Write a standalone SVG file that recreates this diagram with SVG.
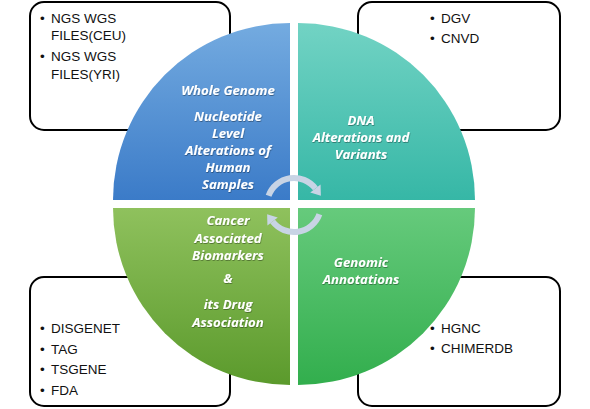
<svg xmlns="http://www.w3.org/2000/svg" width="590" height="409" viewBox="0 0 590 409">
<defs>
<linearGradient id="gBlue" x1="0" y1="0" x2="0" y2="1"><stop offset="0" stop-color="#74abe0"/><stop offset="1" stop-color="#3b7bc8"/></linearGradient>
<linearGradient id="gTeal" x1="0" y1="0" x2="0" y2="1"><stop offset="0" stop-color="#72d3c4"/><stop offset="1" stop-color="#36b7a6"/></linearGradient>
<linearGradient id="gLime" x1="0" y1="0" x2="0" y2="1"><stop offset="0" stop-color="#8fc15d"/><stop offset="1" stop-color="#5b9a2c"/></linearGradient>
<linearGradient id="gGreen" x1="0" y1="0" x2="0" y2="1"><stop offset="0" stop-color="#66ca7c"/><stop offset="1" stop-color="#32ae4d"/></linearGradient>
<filter id="sh" x="-10%" y="-10%" width="120%" height="130%"><feDropShadow dx="0.5" dy="1" stdDeviation="0.6" flood-color="#000" flood-opacity="0.35"/></filter>
<marker id="ah" markerUnits="userSpaceOnUse" markerWidth="14" markerHeight="14" refX="1" refY="7" orient="auto"><path d="M1,0.5 L10,7 L1,13.5 Z" fill="#c8d4e5"/></marker>
<style>
.box{fill:#fff;stroke:#000;stroke-width:2}
.bt{font-family:"Liberation Sans",Arial,sans-serif;font-size:13.5px;fill:#111}
.qt{font-family:"Open Sans",Lato,sans-serif;font-size:13.2px;font-weight:bold;font-style:italic;fill:#fff;text-anchor:middle;filter:url(#sh)}
.arc{fill:none;stroke:#c8d4e5;stroke-width:6}
</style>
</defs>
<rect width="590" height="409" fill="#fff"/>
<g id="box-tl"><rect class="box" x="30" y="2" width="200" height="128" rx="14"/>
<text class="bt"><tspan x="40" y="23">•</tspan><tspan x="51" y="23">NGS WGS</tspan><tspan x="51" y="40">FILES(CEU)</tspan><tspan x="40" y="61">•</tspan><tspan x="51" y="61">NGS WGS</tspan><tspan x="51" y="79">FILES(YRI)</tspan></text></g>
<g id="box-tr"><rect class="box" x="358" y="2" width="202" height="128" rx="14"/>
<text class="bt"><tspan x="430" y="23">•</tspan><tspan x="441" y="23">DGV</tspan><tspan x="430" y="43">•</tspan><tspan x="441" y="43">CNVD</tspan></text></g>
<g id="box-bl"><rect class="box" x="30" y="277" width="200" height="129" rx="14"/>
<text class="bt"><tspan x="40" y="333">•</tspan><tspan x="51" y="333">DISGENET</tspan><tspan x="40" y="354">•</tspan><tspan x="51" y="354">TAG</tspan><tspan x="40" y="374">•</tspan><tspan x="51" y="374">TSGENE</tspan><tspan x="40" y="395">•</tspan><tspan x="51" y="395">FDA</tspan></text></g>
<g id="box-br"><rect class="box" x="358" y="277" width="202" height="129" rx="14"/>
<text class="bt"><tspan x="430" y="333">•</tspan><tspan x="441" y="333">HGNC</tspan><tspan x="430" y="353">•</tspan><tspan x="441" y="353">CHIMERDB</tspan></text></g>
<g id="q-tl"><path d="M290,200 L113,200 A177,177 0 0 1 290,23 Z" fill="url(#gBlue)"/>
<text class="qt"><tspan x="228" y="95">Whole Genome</tspan><tspan x="228" y="121">Nucleotide</tspan><tspan x="228" y="138">Level</tspan><tspan x="228" y="155">Alterations of</tspan><tspan x="228" y="172">Human</tspan><tspan x="228" y="189">Samples</tspan></text></g>
<g id="q-tr"><path d="M298,200 L298,23 A177,177 0 0 1 475,200 Z" fill="url(#gTeal)"/>
<text class="qt"><tspan x="361" y="125">DNA</tspan><tspan x="361" y="142">Alterations and</tspan><tspan x="361" y="159">Variants</tspan></text></g>
<g id="q-bl"><path d="M290,208 L290,385 A177,177 0 0 1 113,208 Z" fill="url(#gLime)"/>
<text class="qt"><tspan x="228" y="225">Cancer</tspan><tspan x="228" y="243">Associated</tspan><tspan x="228" y="260">Biomarkers</tspan><tspan x="228" y="283">&amp;</tspan><tspan x="228" y="309">its Drug</tspan><tspan x="228" y="327">Association</tspan></text></g>
<g id="q-br"><path d="M298,208 L475,208 A177,177 0 0 1 298,385 Z" fill="url(#gGreen)"/>
<text class="qt"><tspan x="361" y="267">Genomic</tspan><tspan x="361" y="284">Annotations</tspan></text></g>
<g id="connectors">
<path class="arc" d="M268.6,195.8 A27,27 0 0 1 315.4,188.5" marker-end="url(#ah)"/>
<path class="arc" d="M319.4,214.2 A27,27 0 0 1 272.6,221.5" marker-end="url(#ah)"/>
</g>
</svg>
